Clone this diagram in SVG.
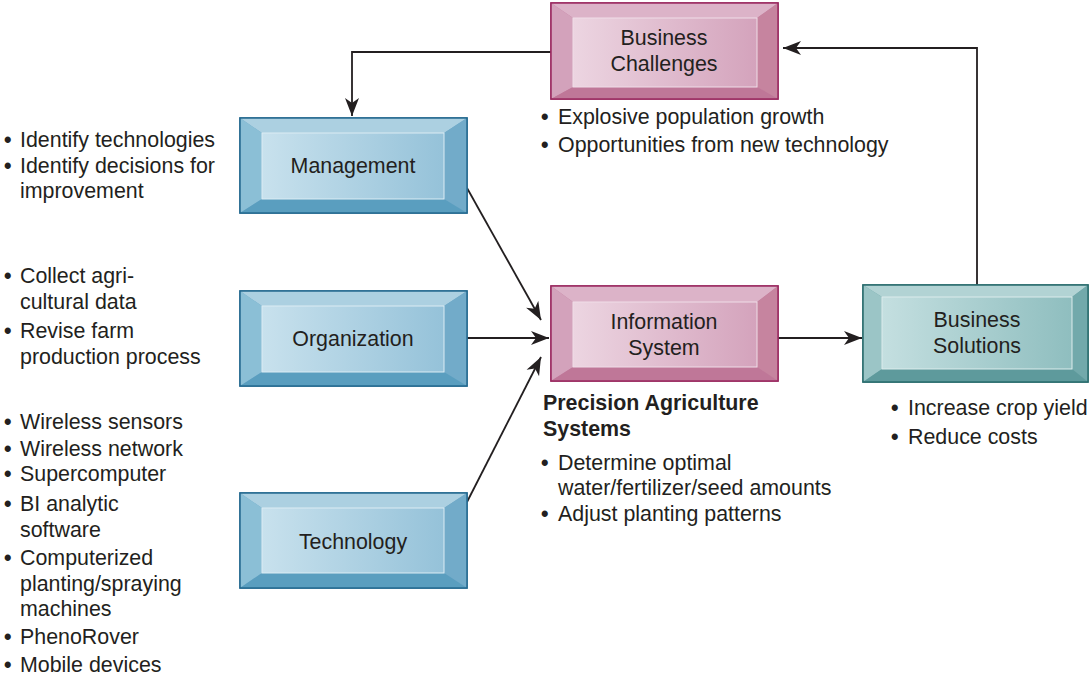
<svg xmlns="http://www.w3.org/2000/svg" width="1090" height="678" viewBox="0 0 1090 678">
<style>
text{font-family:"Liberation Sans",Arial,sans-serif;font-size:21.4px;fill:#231f20}
.lbl{text-anchor:middle}
.b{font-weight:bold}
.d{font-weight:bold}
.conn{fill:none;stroke:#231f20;stroke-width:1.8}
.pk .o{fill:#c47fa0;stroke:#9a2a60;stroke-width:1.5}
.pk .t{fill:#dcb3c8}.pk .l{fill:#d3a2bb}.pk .r{fill:#c6849f}.pk .bt{fill:#bf7798}
.pk .i{fill:url(#gp);stroke:#efdde7;stroke-width:1}
.bl .o{fill:#6fa9c8;stroke:#246a90;stroke-width:1.5}
.bl .t{fill:#acd0e1}.bl .l{fill:#8bbfd6}.bl .r{fill:#72abc9}.bl .bt{fill:#5a9ebf}
.bl .i{fill:url(#gb);stroke:#dbecf4;stroke-width:1}
.tl .o{fill:#6ea6a8;stroke:#2a6c6e;stroke-width:1.5}
.tl .t{fill:#b2d3d4}.tl .l{fill:#9bc5c6}.tl .r{fill:#72a9ab}.tl .bt{fill:#5e9a9c}
.tl .i{fill:url(#gt);stroke:#dcecec;stroke-width:1}
</style>
<defs>
<linearGradient id="gp" x1="0" y1="0" x2="1" y2="0"><stop offset="0" stop-color="#ecd5e1"/><stop offset="1" stop-color="#d4a3bc"/></linearGradient>
<linearGradient id="gb" x1="0" y1="0" x2="1" y2="0"><stop offset="0" stop-color="#c8e1ed"/><stop offset="1" stop-color="#95c2d9"/></linearGradient>
<linearGradient id="gt" x1="0" y1="0" x2="1" y2="0"><stop offset="0" stop-color="#c4dfe0"/><stop offset="1" stop-color="#8fbebf"/></linearGradient>
<marker id="ah" markerUnits="userSpaceOnUse" markerWidth="20" markerHeight="16" refX="18" refY="8" orient="auto"><path d="M0,1 L18,8 L0,15 L5,8 z" fill="#231f20"/></marker>
</defs>

<g id="connectors">
<polyline class="conn" points="977,285 977,48 783,48" marker-end="url(#ah)"/>
<polyline class="conn" points="551,52 352,52 352,116" marker-end="url(#ah)"/>
<line class="conn" x1="467" y1="188" x2="541" y2="320" marker-end="url(#ah)"/>
<line class="conn" x1="467" y1="338" x2="549" y2="338" marker-end="url(#ah)"/>
<line class="conn" x1="467" y1="502" x2="541" y2="357" marker-end="url(#ah)"/>
<line class="conn" x1="778" y1="338" x2="862" y2="338" marker-end="url(#ah)"/>
</g>

<g id="business-challenges" class="pk">
<rect class="o" x="551" y="3" width="227" height="96"/>
<polygon class="t" points="551,3 778,3 757,18 573,18"/>
<polygon class="l" points="551,3 573,18 573,87 551,99"/>
<polygon class="r" points="778,3 778,99 757,87 757,18"/>
<polygon class="bt" points="551,99 573,87 757,87 778,99"/>
<rect class="i" x="573" y="18" width="184" height="69"/>
<rect x="551" y="3" width="227" height="96" fill="none" stroke="#9a2a60" stroke-width="1.5"/>
<text class="lbl" x="664" y="45">Business</text>
<text class="lbl" x="664" y="71">Challenges</text>
<text y="124"><tspan class="d" x="541">•</tspan><tspan x="558">Explosive population growth</tspan></text>
<text y="152"><tspan class="d" x="541">•</tspan><tspan x="558">Opportunities from new technology</tspan></text>
</g>

<g id="management" class="bl">
<rect class="o" x="240" y="118" width="227" height="95"/>
<polygon class="t" points="240,118 467,118 444,133 262,133"/>
<polygon class="l" points="240,118 262,133 262,199 240,213"/>
<polygon class="r" points="467,118 467,213 444,199 444,133"/>
<polygon class="bt" points="240,213 262,199 444,199 467,213"/>
<rect class="i" x="262" y="133" width="182" height="66"/>
<rect x="240" y="118" width="227" height="95" fill="none" stroke="#246a90" stroke-width="1.5"/>
<text class="lbl" x="353" y="173">Management</text>
<text y="147"><tspan class="d" x="4">•</tspan><tspan x="20">Identify technologies</tspan></text>
<text y="173"><tspan class="d" x="4">•</tspan><tspan x="20">Identify decisions for</tspan></text>
<text x="20" y="198">improvement</text>
</g>

<g id="organization" class="bl">
<rect class="o" x="240" y="291" width="227" height="95"/>
<polygon class="t" points="240,291 467,291 444,306 262,306"/>
<polygon class="l" points="240,291 262,306 262,372 240,386"/>
<polygon class="r" points="467,291 467,386 444,372 444,306"/>
<polygon class="bt" points="240,386 262,372 444,372 467,386"/>
<rect class="i" x="262" y="306" width="182" height="66"/>
<rect x="240" y="291" width="227" height="95" fill="none" stroke="#246a90" stroke-width="1.5"/>
<text class="lbl" x="353" y="346">Organization</text>
<text y="283"><tspan class="d" x="4">•</tspan><tspan x="20">Collect agri-</tspan></text>
<text x="20" y="309">cultural data</text>
<text y="338"><tspan class="d" x="4">•</tspan><tspan x="20">Revise farm</tspan></text>
<text x="20" y="364">production process</text>
</g>

<g id="technology" class="bl">
<rect class="o" x="240" y="493" width="227" height="95"/>
<polygon class="t" points="240,493 467,493 444,508 262,508"/>
<polygon class="l" points="240,493 262,508 262,573 240,588"/>
<polygon class="r" points="467,493 467,588 444,573 444,508"/>
<polygon class="bt" points="240,588 262,573 444,573 467,588"/>
<rect class="i" x="262" y="508" width="182" height="65"/>
<rect x="240" y="493" width="227" height="95" fill="none" stroke="#246a90" stroke-width="1.5"/>
<text class="lbl" x="353" y="549">Technology</text>
<text y="429"><tspan class="d" x="4">•</tspan><tspan x="20">Wireless sensors</tspan></text>
<text y="456"><tspan class="d" x="4">•</tspan><tspan x="20">Wireless network</tspan></text>
<text y="481"><tspan class="d" x="4">•</tspan><tspan x="20">Supercomputer</tspan></text>
<text y="511"><tspan class="d" x="4">•</tspan><tspan x="20">BI analytic</tspan></text>
<text x="20" y="537">software</text>
<text y="565"><tspan class="d" x="4">•</tspan><tspan x="20">Computerized</tspan></text>
<text x="20" y="591">planting/spraying</text>
<text x="20" y="616">machines</text>
<text y="644"><tspan class="d" x="4">•</tspan><tspan x="20">PhenoRover</tspan></text>
<text y="672"><tspan class="d" x="4">•</tspan><tspan x="20">Mobile devices</tspan></text>
</g>

<g id="information-system" class="pk">
<rect class="o" x="551" y="286" width="227" height="95"/>
<polygon class="t" points="551,286 778,286 757,302 573,302"/>
<polygon class="l" points="551,286 573,302 573,367 551,381"/>
<polygon class="r" points="778,286 778,381 757,367 757,302"/>
<polygon class="bt" points="551,381 573,367 757,367 778,381"/>
<rect class="i" x="573" y="302" width="184" height="65"/>
<rect x="551" y="286" width="227" height="95" fill="none" stroke="#9a2a60" stroke-width="1.5"/>
<text class="lbl" x="664" y="329">Information</text>
<text class="lbl" x="664" y="355">System</text>
<text class="b" x="543" y="410">Precision Agriculture</text>
<text class="b" x="543" y="436">Systems</text>
<text y="470"><tspan class="d" x="541">•</tspan><tspan x="558">Determine optimal</tspan></text>
<text x="558" y="495">water/fertilizer/seed amounts</text>
<text y="521"><tspan class="d" x="541">•</tspan><tspan x="558">Adjust planting patterns</tspan></text>
</g>

<g id="business-solutions" class="tl">
<rect class="o" x="863" y="285" width="225" height="97"/>
<polygon class="t" points="863,285 1088,285 1072,297 882,297"/>
<polygon class="l" points="863,285 882,297 882,369 863,382"/>
<polygon class="r" points="1088,285 1088,382 1072,369 1072,297"/>
<polygon class="bt" points="863,382 882,369 1072,369 1088,382"/>
<rect class="i" x="882" y="297" width="190" height="72"/>
<rect x="863" y="285" width="225" height="97" fill="none" stroke="#2a6c6e" stroke-width="1.5"/>
<text class="lbl" x="977" y="327">Business</text>
<text class="lbl" x="977" y="353">Solutions</text>
<text y="415"><tspan class="d" x="891">•</tspan><tspan x="908">Increase crop yield</tspan></text>
<text y="444"><tspan class="d" x="891">•</tspan><tspan x="908">Reduce costs</tspan></text>
</g>
</svg>
